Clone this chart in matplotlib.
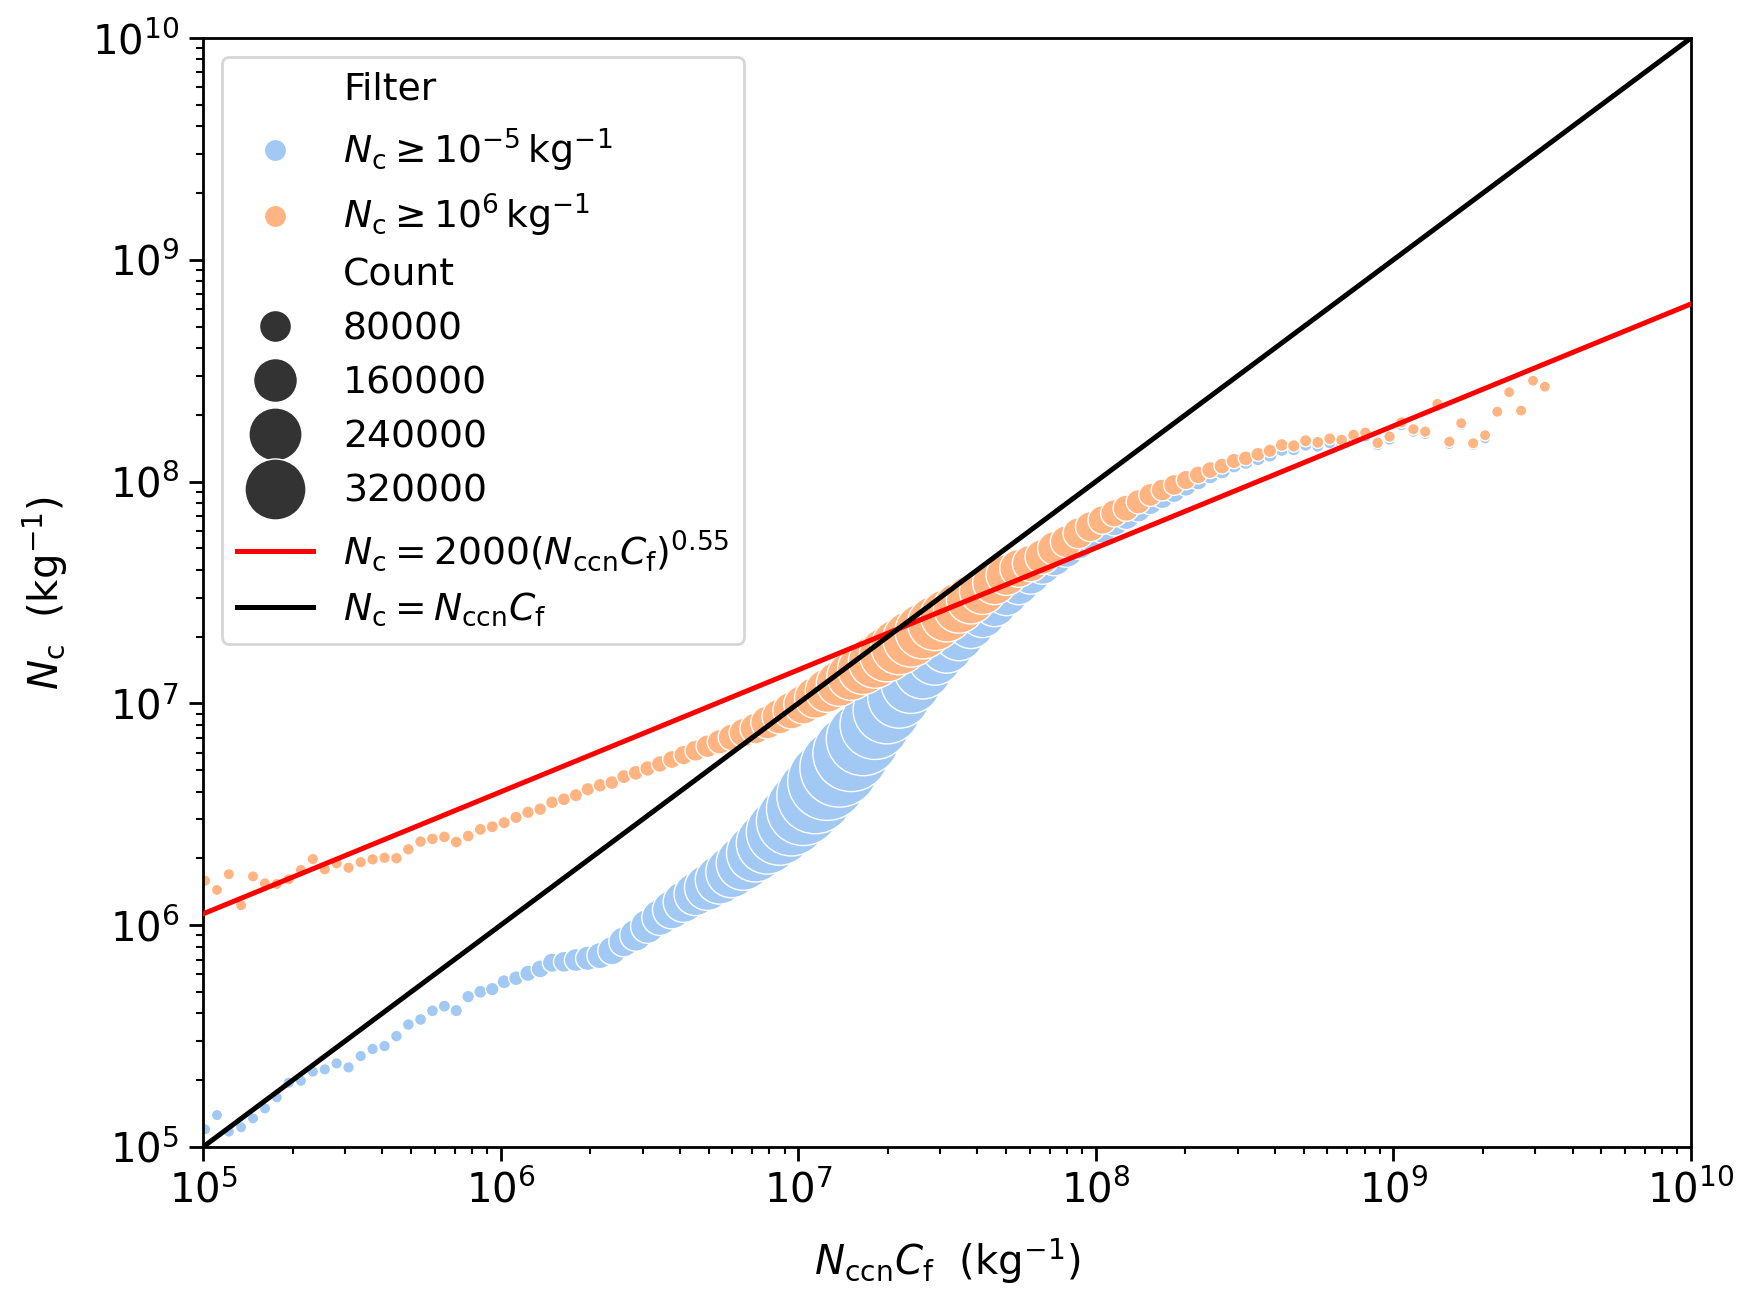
import numpy as np
import matplotlib
matplotlib.use("Agg")
import matplotlib.pyplot as plt
from matplotlib.lines import Line2D

# ---------------- data (log10 values) ----------------
bin_log_x = [
    5.007, 5.047, 5.087, 5.128, 5.168, 5.208, 5.248, 5.288, 5.329, 5.369,
    5.409, 5.449, 5.489, 5.530, 5.570, 5.610, 5.650, 5.690, 5.731, 5.771,
    5.811, 5.851, 5.891, 5.932, 5.972, 6.012, 6.052, 6.092, 6.133, 6.173,
    6.213, 6.253, 6.293, 6.334, 6.374, 6.414, 6.454, 6.494, 6.535, 6.575,
    6.615, 6.655, 6.695, 6.736, 6.776, 6.816, 6.856, 6.896, 6.937, 6.977,
    7.017, 7.057, 7.097, 7.138, 7.178, 7.218, 7.258, 7.298, 7.339, 7.379,
    7.419, 7.459, 7.499, 7.540, 7.580, 7.620, 7.660, 7.700, 7.741, 7.781,
    7.821, 7.861, 7.901, 7.942, 7.982, 8.022, 8.062, 8.102, 8.143, 8.183,
    8.223, 8.263, 8.303, 8.344, 8.384, 8.424, 8.464, 8.504, 8.545, 8.585,
    8.625, 8.665, 8.705, 8.746, 8.786, 8.826, 8.866, 8.906, 8.947, 8.987,
    9.027, 9.067, 9.107, 9.148, 9.188, 9.228, 9.268, 9.308, 9.349, 9.389,
    9.429, 9.469, 9.509,
]

# Filter: Nc >= 1e-5 kg^-1 (blue)
blue_log_y = [
    5.080, 5.144, 5.069, 5.089, 5.129, 5.174, 5.224, 5.290, 5.299, 5.340,
    5.350, 5.377, 5.359, 5.410, 5.442, 5.455, 5.500, 5.552, 5.575, 5.614,
    5.635, 5.615, 5.678, 5.700, 5.712, 5.745, 5.761, 5.783, 5.803, 5.831,
    5.835, 5.843, 5.851, 5.863, 5.885, 5.925, 5.955, 5.995, 6.035, 6.070,
    6.105, 6.140, 6.170, 6.205, 6.240, 6.280, 6.325, 6.370, 6.420, 6.470,
    6.525, 6.585, 6.650, 6.710, 6.775, 6.840, 6.905, 6.970, 7.030, 7.090,
    7.150, 7.205, 7.255, 7.305, 7.355, 7.400, 7.445, 7.490, 7.535, 7.580,
    7.620, 7.655, 7.690, 7.725, 7.760, 7.790, 7.820, 7.845, 7.875, 7.905,
    7.930, 7.955, 7.980, 8.005, 8.030, 8.050, 8.075, 8.090, 8.105, 8.120,
    8.145, 8.145, 8.165, 8.160, 8.175, 8.170, 8.195, 8.205, 8.165, 8.190,
    8.255, 8.225, 8.215, 8.340, 8.170, 8.255, 8.165, 8.195,
]
blue_count = [
    300, 400, 300, 400, 400, 500, 500, 600, 700, 700,
    800, 900, 900, 1000, 1100, 1200, 1400, 1600, 1800, 2000,
    2300, 2800, 3500, 4500, 5500, 6800, 9000, 13000, 17800, 22500,
    28000, 36000, 42000, 50000, 60000, 69000, 80000, 92000, 104000, 120000,
    138000, 153000, 176000, 200000, 225000, 253000, 285000, 330000, 380000, 424000,
    470000, 510000, 540000, 540000, 510000, 470000, 424000, 395000, 340000, 309000,
    285000, 253000, 235000, 211000, 192000, 176000, 160000, 145000, 131000, 124000,
    110000, 100000, 92000, 86000, 77000, 69000, 62000, 55000, 47000, 40000,
    36000, 32000, 26000, 21000, 17800, 14700, 12000, 10500, 9000, 7800,
    6800, 4000, 3200, 2800, 2500, 2200, 2000, 1800, 1600, 1400,
    1300, 1200, 1000, 900, 800, 700, 600, 500,
]

# Filter: Nc >= 1e6 kg^-1 (orange)
orange_log_y = [
    6.201, 6.159, 6.230, 6.090, 6.220, 6.189, 6.186, 6.207, 6.249, 6.298,
    6.252, 6.279, 6.259, 6.284, 6.297, 6.304, 6.302, 6.342, 6.377, 6.389,
    6.398, 6.375, 6.402, 6.432, 6.444, 6.462, 6.486, 6.509, 6.523, 6.554,
    6.568, 6.586, 6.613, 6.631, 6.643, 6.670, 6.687, 6.707, 6.727, 6.747,
    6.767, 6.787, 6.807, 6.827, 6.847, 6.868, 6.887, 6.914, 6.941, 6.968,
    6.995, 7.026, 7.058, 7.090, 7.123, 7.155, 7.188, 7.221, 7.256, 7.291,
    7.326, 7.361, 7.396, 7.431, 7.468, 7.506, 7.544, 7.579, 7.609, 7.631,
    7.661, 7.699, 7.729, 7.767, 7.797, 7.827, 7.857, 7.880, 7.909, 7.940,
    7.962, 7.985, 8.007, 8.030, 8.052, 8.070, 8.093, 8.105, 8.123, 8.139,
    8.165, 8.161, 8.184, 8.177, 8.193, 8.187, 8.210, 8.220, 8.175, 8.203,
    8.267, 8.236, 8.225, 8.350, 8.180, 8.263, 8.173, 8.209, 8.315, 8.403,
    8.320, 8.455, 8.428,
]
orange_count = [
    400, 300, 500, 300, 400, 500, 600, 500, 700, 800,
    800, 900, 900, 1000, 1100, 1200, 1300, 1400, 1500, 1700,
    1800, 1900, 2100, 2300, 2500, 2700, 3000, 3300, 3600, 4000,
    4400, 4800, 5300, 5800, 6500, 7200, 9000, 11000, 14000, 18000,
    23000, 29000, 35000, 43000, 52000, 62000, 73000, 85000, 97000, 110000,
    124000, 140000, 158000, 176000, 198000, 220000, 240000, 258000, 270000, 272000,
    265000, 253000, 236000, 218000, 200000, 182000, 160000, 138000, 117000, 108000,
    98000, 90000, 80000, 75000, 69000, 62000, 55000, 50000, 42000, 36000,
    32000, 28000, 22500, 17800, 14700, 12000, 10500, 9000, 6800, 5500,
    4000, 3000, 2500, 2200, 2000, 1800, 1600, 1400, 1200, 1100,
    1000, 900, 800, 700, 600, 500, 500, 400, 400, 300,
    300, 200, 200,
]

size_legend_counts = [80000, 160000, 240000, 320000]
filter_labels = [r"$N_\mathrm{c} \geq 10^{-5}\,\mathrm{kg}^{-1}$",
                 r"$N_\mathrm{c} \geq 10^{6}\,\mathrm{kg}^{-1}$"]
fit_coef = 2000.0
fit_exp = 0.55
line_x = [1e5, 1e10]

# ---------------- style ----------------
plt.rcParams.update({
    "font.family": ["DejaVu Sans"],
    "font.size": 14,
    "axes.linewidth": 1.0,
    "xtick.major.size": 5.0, "ytick.major.size": 5.0,
    "xtick.major.width": 1.0, "ytick.major.width": 1.0,
    "xtick.minor.size": 2.6, "ytick.minor.size": 2.6,
    "xtick.minor.width": 0.75, "ytick.minor.width": 0.75,
    "xtick.labelsize": 14.5, "ytick.labelsize": 14.5,
})

BLUE = "#a1c9f4"
ORANGE = "#ffb482"
S0, S_PER_COUNT = 16.0, 0.00146


def count_to_s(c):
    return S0 + S_PER_COUNT * np.asarray(c, dtype=float)


fig = plt.figure(figsize=(1752 / 200, 1297 / 200), dpi=200)
ax = fig.add_axes([203 / 1752, 1 - 1147 / 1297, 1488 / 1752, 1109 / 1297])

x_all = 10 ** np.array(bin_log_x)
xb = x_all[:len(blue_log_y)]
xo = x_all[:len(orange_log_y)]

ax.scatter(xb, 10 ** np.array(blue_log_y), s=count_to_s(blue_count),
           color=BLUE, edgecolor="white", linewidth=0.5, zorder=2)
ax.scatter(xo, 10 ** np.array(orange_log_y), s=count_to_s(orange_count),
           color=ORANGE, edgecolor="white", linewidth=0.5, zorder=2)

lx = np.array(line_x)
ax.plot(lx, fit_coef * lx ** fit_exp, color="red", lw=1.8, zorder=3)
ax.plot(lx, lx, color="black", lw=1.8, zorder=3)

ax.set_xscale("log")
ax.set_yscale("log")
ax.set_xlim(1e5, 1e10)
ax.set_ylim(1e5, 1e10)
ax.set_xlabel(r"$N_\mathrm{ccn}C_\mathrm{f}$  (kg$^{-1}$)", fontsize=14.5,
              labelpad=9)
ax.set_ylabel(r"$N_\mathrm{c}$  (kg$^{-1}$)", fontsize=14.5, labelpad=8)

# legend
blank = lambda lab: Line2D([], [], linestyle="none", marker="", label=lab)
handles = [blank("Filter")]
for col, lab in zip([BLUE, ORANGE], filter_labels):
    handles.append(Line2D([], [], linestyle="none", marker="o", markersize=8,
                          markerfacecolor=col, markeredgecolor="white",
                          markeredgewidth=0.5, label=lab))
handles.append(blank("Count"))
for c in size_legend_counts:
    handles.append(Line2D([], [], linestyle="none", marker="o",
                          markersize=float(np.sqrt(count_to_s(c))),
                          markerfacecolor="#333333", markeredgecolor="white",
                          markeredgewidth=0.5, label=str(c)))
handles.append(Line2D([], [], color="red", lw=1.8,
                      label=r"$N_\mathrm{c} = 2000(N_\mathrm{ccn}C_\mathrm{f})^{0.55}$"))
handles.append(Line2D([], [], color="black", lw=1.8,
                      label=r"$N_\mathrm{c} = N_\mathrm{ccn}C_\mathrm{f}$"))
ax.legend(handles=handles, loc="upper left", fontsize=13.6, labelspacing=0.48)

fig.savefig("out.png", dpi=200)
